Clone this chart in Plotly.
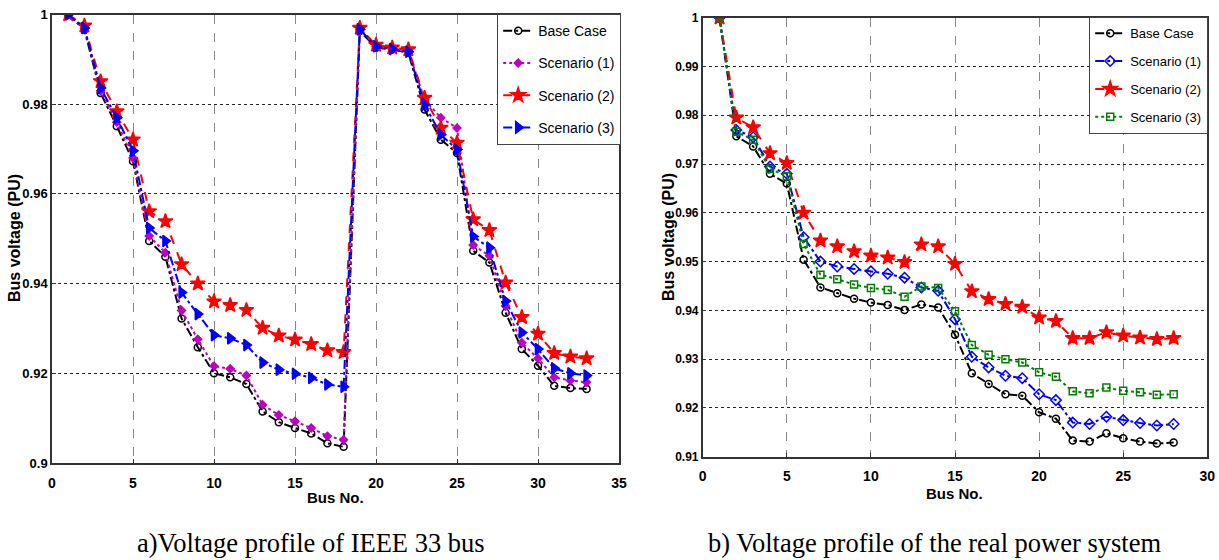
import plotly.graph_objects as go

# ---------------- data: (a) IEEE 33 bus ----------------
bus_a = list(range(1, 34))
base_a = [1.0, 0.9966, 0.9825, 0.9751, 0.9673, 0.9495, 0.946, 0.9322, 0.9258, 0.92, 0.9191, 0.9176,
          0.9115, 0.9091, 0.9078, 0.9066, 0.9044, 0.9036, 0.9963, 0.9926, 0.9922, 0.9915, 0.9788,
          0.9721, 0.9691, 0.9473, 0.9447, 0.9335, 0.9254, 0.9217, 0.9172, 0.9167, 0.9165]
sc1_a = [1.0, 0.997, 0.983, 0.976, 0.968, 0.9506, 0.9469, 0.934, 0.9276, 0.9216, 0.921, 0.9195,
         0.913, 0.9107, 0.9093, 0.9078, 0.906, 0.9052, 0.9966, 0.9928, 0.9923, 0.9918, 0.981,
         0.977, 0.9747, 0.9486, 0.9462, 0.935, 0.9268, 0.9233, 0.9191, 0.9184, 0.918]
sc2_a = [1.0, 0.9975, 0.9851, 0.9784, 0.9721, 0.9561, 0.9539, 0.9443, 0.94, 0.936, 0.9352, 0.9341,
         0.9301, 0.9284, 0.9275, 0.9265, 0.9251, 0.9247, 0.997, 0.9932, 0.9926, 0.9922, 0.9814,
         0.9747, 0.9714, 0.9543, 0.9519, 0.9402, 0.9325, 0.9288, 0.9245, 0.9237, 0.9233]
sc3_a = [1.0, 0.997, 0.9836, 0.977, 0.9696, 0.9524, 0.9495, 0.938, 0.9332, 0.9285, 0.9278, 0.9263,
         0.9224, 0.9208, 0.9199, 0.919, 0.9175, 0.917, 0.9967, 0.9929, 0.9923, 0.9917, 0.9799,
         0.9732, 0.9699, 0.9505, 0.948, 0.9361, 0.9291, 0.9254, 0.9211, 0.92, 0.9195]

# ---------------- data: (b) real power system ----------------
bus_b = list(range(1, 29))
base_b = [1.0, 0.9757, 0.9736, 0.968, 0.966, 0.9504, 0.9447, 0.9435, 0.9424, 0.9416, 0.9411, 0.9401,
          0.9412, 0.9406, 0.935, 0.9271, 0.9249, 0.9228, 0.9225, 0.9191, 0.9178, 0.9133, 0.9131,
          0.9148, 0.9138, 0.9131, 0.9127, 0.9129]
sc1_b = [1.0, 0.977, 0.9755, 0.9695, 0.968, 0.955, 0.95, 0.949, 0.9485, 0.948, 0.9475, 0.9467,
         0.9447, 0.944, 0.9382, 0.9305, 0.9283, 0.9266, 0.9261, 0.9228, 0.9216, 0.917, 0.9167,
         0.9182, 0.9175, 0.9169, 0.9164, 0.9167]
sc2_b = [1.0, 0.9795, 0.9775, 0.9722, 0.9702, 0.96, 0.9543, 0.9531, 0.9521, 0.9512, 0.9508, 0.9499,
         0.9535, 0.9531, 0.9495, 0.9439, 0.9423, 0.9413, 0.9407, 0.9385, 0.9378, 0.9343, 0.9343,
         0.9355, 0.9348, 0.9344, 0.9341, 0.9343]
sc3_b = [1.0, 0.9766, 0.975, 0.969, 0.9675, 0.9536, 0.9473, 0.9464, 0.9453, 0.9446, 0.9442, 0.9428,
         0.9449, 0.9446, 0.9398, 0.9329, 0.9309, 0.93, 0.9293, 0.9273, 0.9264, 0.9234, 0.923,
         0.9242, 0.9235, 0.9232, 0.9227, 0.9228]

names = ["Base Case", "Scenario (1)", "Scenario (2)", "Scenario (3)"]
xticks_a = [0, 5, 10, 15, 20, 25, 30, 35]
yticks_a = [0.9, 0.92, 0.94, 0.96, 0.98, 1.0]
xticks_b = [0, 5, 10, 15, 20, 25, 30]
yticks_b = [0.91, 0.92, 0.93, 0.94, 0.95, 0.96, 0.97, 0.98, 0.99, 1.0]

W, H = 1219, 560
SANS = "Liberation Sans, Arial, sans-serif"

fig = go.Figure()

styles_a = [
    dict(color="black", dash="dashdot", symbol="circle-open", size=7),
    dict(color="#c000c0", dash="dot", symbol="diamond", size=6),
    dict(color="#ff0000", dash="dash", symbol="star", size=11),
    dict(color="#0000ff", dash="dashdot", symbol="triangle-right", size=10),
]
for name, ys, st in zip(names, [base_a, sc1_a, sc2_a, sc3_a], styles_a):
    fig.add_trace(go.Scatter(
        x=bus_a, y=ys, name=name, mode="lines+markers", xaxis="x", yaxis="y",
        legend="legend", legendgroup="a" + name,
        line=dict(color=st["color"], dash=st["dash"], width=2),
        marker=dict(symbol=st["symbol"], size=st["size"], color=st["color"],
                    line=dict(color=st["color"], width=1.5)),
    ))

styles_b = [
    dict(color="black", dash="dashdot", symbol="circle-open", size=7),
    dict(color="#0000ff", dash="dashdot", symbol="diamond-open", size=8),
    dict(color="#ff0000", dash="dash", symbol="star", size=11),
    dict(color="#008000", dash="dot", symbol="square-open", size=7),
]
for name, ys, st in zip(names, [base_b, sc1_b, sc2_b, sc3_b], styles_b):
    fig.add_trace(go.Scatter(
        x=bus_b, y=ys, name=name, mode="lines+markers", xaxis="x2", yaxis="y2",
        legend="legend2", legendgroup="b" + name,
        line=dict(color=st["color"], dash=st["dash"], width=2),
        marker=dict(symbol=st["symbol"], size=st["size"], color=st["color"],
                    line=dict(color=st["color"], width=1.5)),
    ))

def xax(domain, rng, ticks, anchor):
    return dict(domain=domain, range=rng, tickvals=ticks, anchor=anchor, automargin=False,
                showline=True, mirror=True, linecolor="#333", linewidth=1.5,
                ticks="inside", ticklen=4, tickcolor="#333",
                showgrid=True, gridcolor="#888", griddash="dash", gridwidth=1,
                zeroline=False, ticklabelstandoff=6,
                tickfont=dict(family=SANS, size=14, color="black", weight="bold"))

def yax(domain, rng, ticks, anchor, fs):
    return dict(domain=domain, range=rng, tickvals=ticks, anchor=anchor, automargin=False,
                showline=True, mirror=True, linecolor="#333", linewidth=1.5,
                ticks="inside", ticklen=4, tickcolor="#333",
                showgrid=True, gridcolor="#222", griddash="dot", gridwidth=1,
                zeroline=False,
                tickfont=dict(family=SANS, size=fs, color="black", weight="bold"))

legend_common = dict(bgcolor="white", bordercolor="#444", borderwidth=1.2,
                     itemwidth=30, xanchor="right", yanchor="top")

fig.update_layout(
    width=W, height=H, margin=dict(l=0, r=0, t=0, b=0, autoexpand=False),
    paper_bgcolor="white", plot_bgcolor="white",
    xaxis=xax([52 / W, 619 / W], [0, 35], xticks_a, "y"),
    yaxis=yax([1 - 463 / H, 1 - 14.5 / H], [0.9, 1.0], yticks_a, "x", 13),
    xaxis2=xax([702.7 / W, 1207.3 / W], [0, 30], xticks_b, "y2"),
    yaxis2=yax([1 - 456.7 / H, 1 - 17.7 / H], [0.91, 1.0], yticks_b, "x2", 12),
    legend=dict(x=621 / W, y=1 - 14 / H, tracegroupgap=11,
                font=dict(family=SANS, size=14, color="black"), **legend_common),
    legend2=dict(x=1208 / W, y=1 - 17 / H, tracegroupgap=8,
                 font=dict(family=SANS, size=13, color="black"), **legend_common),
    showlegend=True,
)

ann = []
ylab_font = dict(family=SANS, size=16, color="black", weight="bold")
ann.append(dict(text="Bus voltage (PU)", x=14 / W, y=1 - 238 / H, xref="paper", yref="paper",
                textangle=-90, showarrow=False, font=ylab_font, xanchor="center", yanchor="middle"))
ann.append(dict(text="Bus voltage (PU)", x=668 / W, y=1 - 237 / H, xref="paper", yref="paper",
                textangle=-90, showarrow=False, font=ylab_font, xanchor="center", yanchor="middle"))
xlab_font = dict(family=SANS, size=15, color="black", weight="bold")
ann.append(dict(text="Bus No.", x=335 / W, y=1 - 497 / H, xref="paper", yref="paper",
                showarrow=False, font=xlab_font, xanchor="center", yanchor="middle"))
ann.append(dict(text="Bus No.", x=955 / W, y=1 - 493 / H, xref="paper", yref="paper",
                showarrow=False, font=xlab_font, xanchor="center", yanchor="middle"))
cap_font = dict(family="Liberation Serif, Times New Roman, serif", size=26.5, color="black")
ann.append(dict(text="a)Voltage profile of IEEE 33 bus", x=311 / W, y=1 - 543 / H,
                xref="paper", yref="paper", showarrow=False, font=cap_font,
                xanchor="center", yanchor="middle"))
ann.append(dict(text="b) Voltage profile of the real power system", x=934 / W, y=1 - 543 / H,
                xref="paper", yref="paper", showarrow=False, font=cap_font,
                xanchor="center", yanchor="middle"))
fig.update_layout(annotations=ann)

fig.write_html("out.html")
